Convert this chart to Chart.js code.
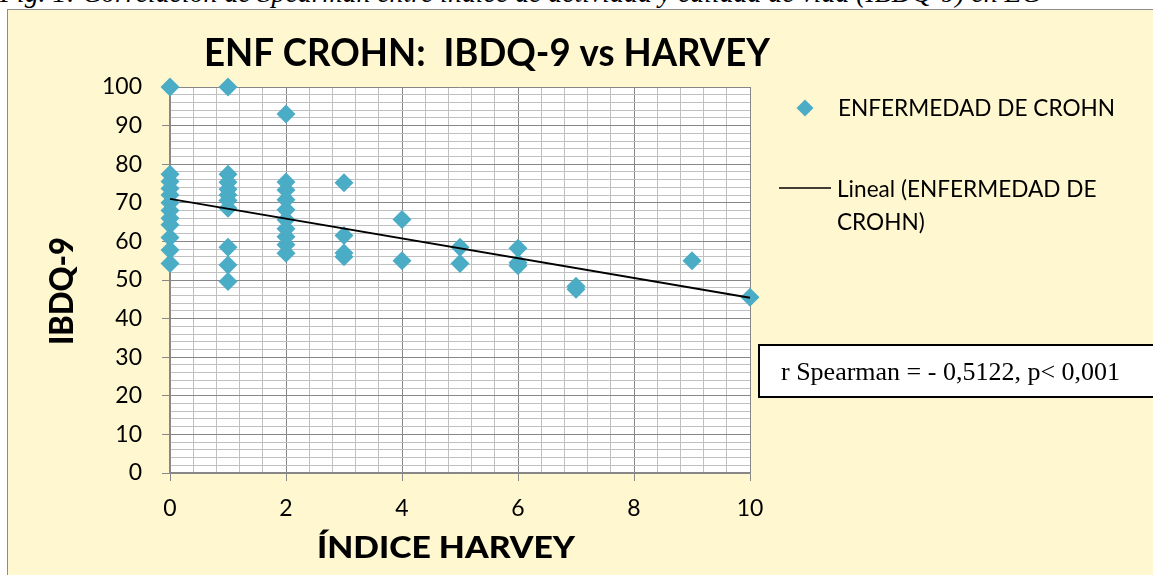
<!DOCTYPE html>
<html>
<head>
<meta charset="utf-8">
<script src="https://cdn.jsdelivr.net/npm/chart.js@4/dist/chart.umd.min.js"></script>
<style>
  html, body { margin: 0; padding: 0; background: #fff; }
  body { width: 1153px; height: 575px; position: relative; overflow: hidden; }
  #caption { position: absolute; left: 0; top: -19px; font: italic 27.8px "Liberation Serif", serif; line-height: 24px; white-space: nowrap; color: #000; }
  #frame { position: absolute; left: 7px; top: 9px; width: 1170px; height: 590px; background: #FFF7CF; border: 1px solid #8c8c8c; }
  #wrap { position: absolute; left: 0; top: 0; width: 1153px; height: 575px; }
</style>
</head>
<body>
<div id="caption">Fig. 1: Correlación de Spearman entre índice de actividad y calidad de vida (IBDQ-9) en EC</div>
<div id="frame"></div>
<div id="wrap"><canvas id="chartCanvas" width="1153" height="575"></canvas></div>
<script>
// Harvey index (x) and IBDQ-9 score (y), one entry per patient
const harveyIndex = [
    0, 0, 0, 0, 0, 0, 0, 0, 0, 0, 0, 0,
    1, 1, 1, 1, 1, 1, 1, 1, 1, 1,
    2, 2, 2, 2, 2, 2, 2, 2, 2, 2,
    3, 3, 3, 3,
    4, 4,
    5, 5,
    6, 6, 6,
    7, 7,
    9,
    10
];
const ibdq9Score = [
    100, 77.4, 75.5, 73.7, 72, 70, 68, 66, 64.3, 61, 57.8, 54.3,
    100, 77.4, 75.3, 73.5, 72, 70.6, 68.6, 58.5, 53.9, 49.6,
    93, 75.4, 73.3, 70.8, 68.2, 65.6, 63.3, 61.2, 59.1, 56.9,
    75.2, 61.5, 57, 56,
    65.7, 55,
    58.5, 54.3,
    58.2, 54.5, 53.7,
    48.4, 47.6,
    55,
    45.5
];

// linear trend line end points (as drawn by the spreadsheet)
const trendX = [0, 10];
const trendY = [71.0, 45.4];

const seriesLabel = "ENFERMEDAD DE CROHN";
const trendLabel = ["Lineal (ENFERMEDAD DE", "CROHN)"];
const chartTitle = "ENF CROHN:  IBDQ-9 vs HARVEY";
const xTitle = "ÍNDICE HARVEY";
const yTitle = "IBDQ-9";
const noteText = "r Spearman = - 0,5122, p< 0,001";

const MARKER = "#4BACC6";
const MAJOR = "#878787";
const MINOR = "#c0c0c0";

const isMultiple = (v, step) => Math.abs(v / step - Math.round(v / step)) < 1e-6;

// draw text centred on x, squeezed/stretched to a given width
function fitText(ctx, text, x, y, width) {
    const w = ctx.measureText(text).width;
    ctx.save();
    ctx.translate(x, y);
    ctx.scale(width / w, 1);
    ctx.textAlign = "center";
    ctx.fillText(text, 0, 0);
    ctx.restore();
}

// draws the white plot area, the title, legend, axis titles and the note box
const excelDecor = {
    id: "excelDecor",
    beforeDraw(chart) {
        const { ctx, chartArea: a } = chart;
        ctx.save();
        ctx.fillStyle = "#fff";
        ctx.fillRect(a.left, a.top, a.right - a.left, a.bottom - a.top);
        ctx.restore();
    },
    afterDraw(chart) {
        const { ctx } = chart;
        ctx.save();
        ctx.fillStyle = "#000";
        ctx.textBaseline = "alphabetic";

        // title
        ctx.font = "bold 39px Lato";
        fitText(ctx, chartTitle, 487, 66, 566);

        // legend
        ctx.fillStyle = MARKER;
        ctx.beginPath();
        ctx.moveTo(805 - 8.5, 108);
        ctx.lineTo(805, 108 - 8.5);
        ctx.lineTo(805 + 8.5, 108);
        ctx.lineTo(805, 108 + 8.5);
        ctx.closePath();
        ctx.fill();
        ctx.fillStyle = "#000";
        ctx.font = "22.6px Lato";
        ctx.textAlign = "left";
        ctx.fillText(seriesLabel, 838, 116);
        ctx.strokeStyle = "#000";
        ctx.lineWidth = 1.5;
        ctx.beginPath();
        ctx.moveTo(779, 188);
        ctx.lineTo(831, 188);
        ctx.stroke();
        ctx.fillText(trendLabel[0], 837, 197);
        ctx.fillText(trendLabel[1], 837, 230);

        // note box
        ctx.fillStyle = "#fff";
        ctx.fillRect(759, 345, 420, 52);
        ctx.lineWidth = 2;
        ctx.strokeRect(759, 345, 420, 52);
        ctx.fillStyle = "#000";
        ctx.font = "26px 'Liberation Serif'";
        ctx.fillText(noteText, 781, 380);

        // axis titles (heavy, condensed like the original)
        ctx.font = "900 30px Lato";
        fitText(ctx, xTitle, 446, 558, 258);

        ctx.font = "900 32px Lato";
        ctx.save();
        ctx.translate(73, 291);
        ctx.rotate(-Math.PI / 2);
        fitText(ctx, yTitle, 0, 0, 108);
        ctx.restore();

        ctx.restore();
    }
};

const ctx = document.getElementById("chartCanvas").getContext("2d");
const chart = new Chart(ctx, {
    type: "scatter",
    data: {
        datasets: [
            {
                label: trendLabel.join(" "),
                type: "line",
                data: trendX.map((x, i) => ({ x: x, y: trendY[i] })),
                borderColor: "#000",
                borderWidth: 1.8,
                pointRadius: 0,
                showLine: true,
                fill: false,
                clip: false,
                order: 0
            },
            {
                label: seriesLabel,
                data: harveyIndex.map((x, i) => ({ x: x, y: ibdq9Score[i] })),
                pointStyle: "rectRot",
                pointRadius: 9.5,
                pointHoverRadius: 9.5,
                backgroundColor: MARKER,
                borderWidth: 0,
                clip: false,
                order: 1
            }
        ]
    },
    options: {
        responsive: false,
        animation: false,
        events: [],
        layout: { padding: { top: 87, right: 403, bottom: 0, left: 0 } },
        plugins: {
            legend: { display: false },
            title: { display: false },
            tooltip: { enabled: false }
        },
        scales: {
            x: {
                type: "linear",
                min: 0,
                max: 10,
                afterFit: s => { s.height = 102; },
                ticks: {
                    stepSize: 0.4,
                    autoSkip: false,
                    maxRotation: 0,
                    padding: 14,
                    color: "#000",
                    font: { family: "Lato", size: 23 },
                    callback: v => (isMultiple(v, 2) ? String(Math.round(v)) : "")
                },
                grid: {
                    color: c => (isMultiple(c.tick.value, 2) ? MAJOR : MINOR),
                    tickColor: c => (isMultiple(c.tick.value, 2) ? MAJOR : "rgba(0,0,0,0)"),
                    tickLength: 8,
                    lineWidth: 1
                },
                border: { color: MAJOR, width: 1.5 }
            },
            y: {
                min: 0,
                max: 100,
                afterFit: s => { s.width = 170; },
                ticks: {
                    stepSize: 2,
                    autoSkip: false,
                    padding: 20,
                    color: "#000",
                    font: { family: "Lato", size: 23 },
                    callback: v => (isMultiple(v, 10) ? String(Math.round(v)) : "")
                },
                grid: {
                    color: c => (isMultiple(c.tick.value, 10) ? MAJOR : MINOR),
                    tickColor: c => (isMultiple(c.tick.value, 10) ? MAJOR : "rgba(0,0,0,0)"),
                    tickLength: 8,
                    lineWidth: 1
                },
                border: { color: MAJOR, width: 1.5 }
            }
        }
    },
    plugins: [excelDecor]
});
</script>
</body>
</html>
